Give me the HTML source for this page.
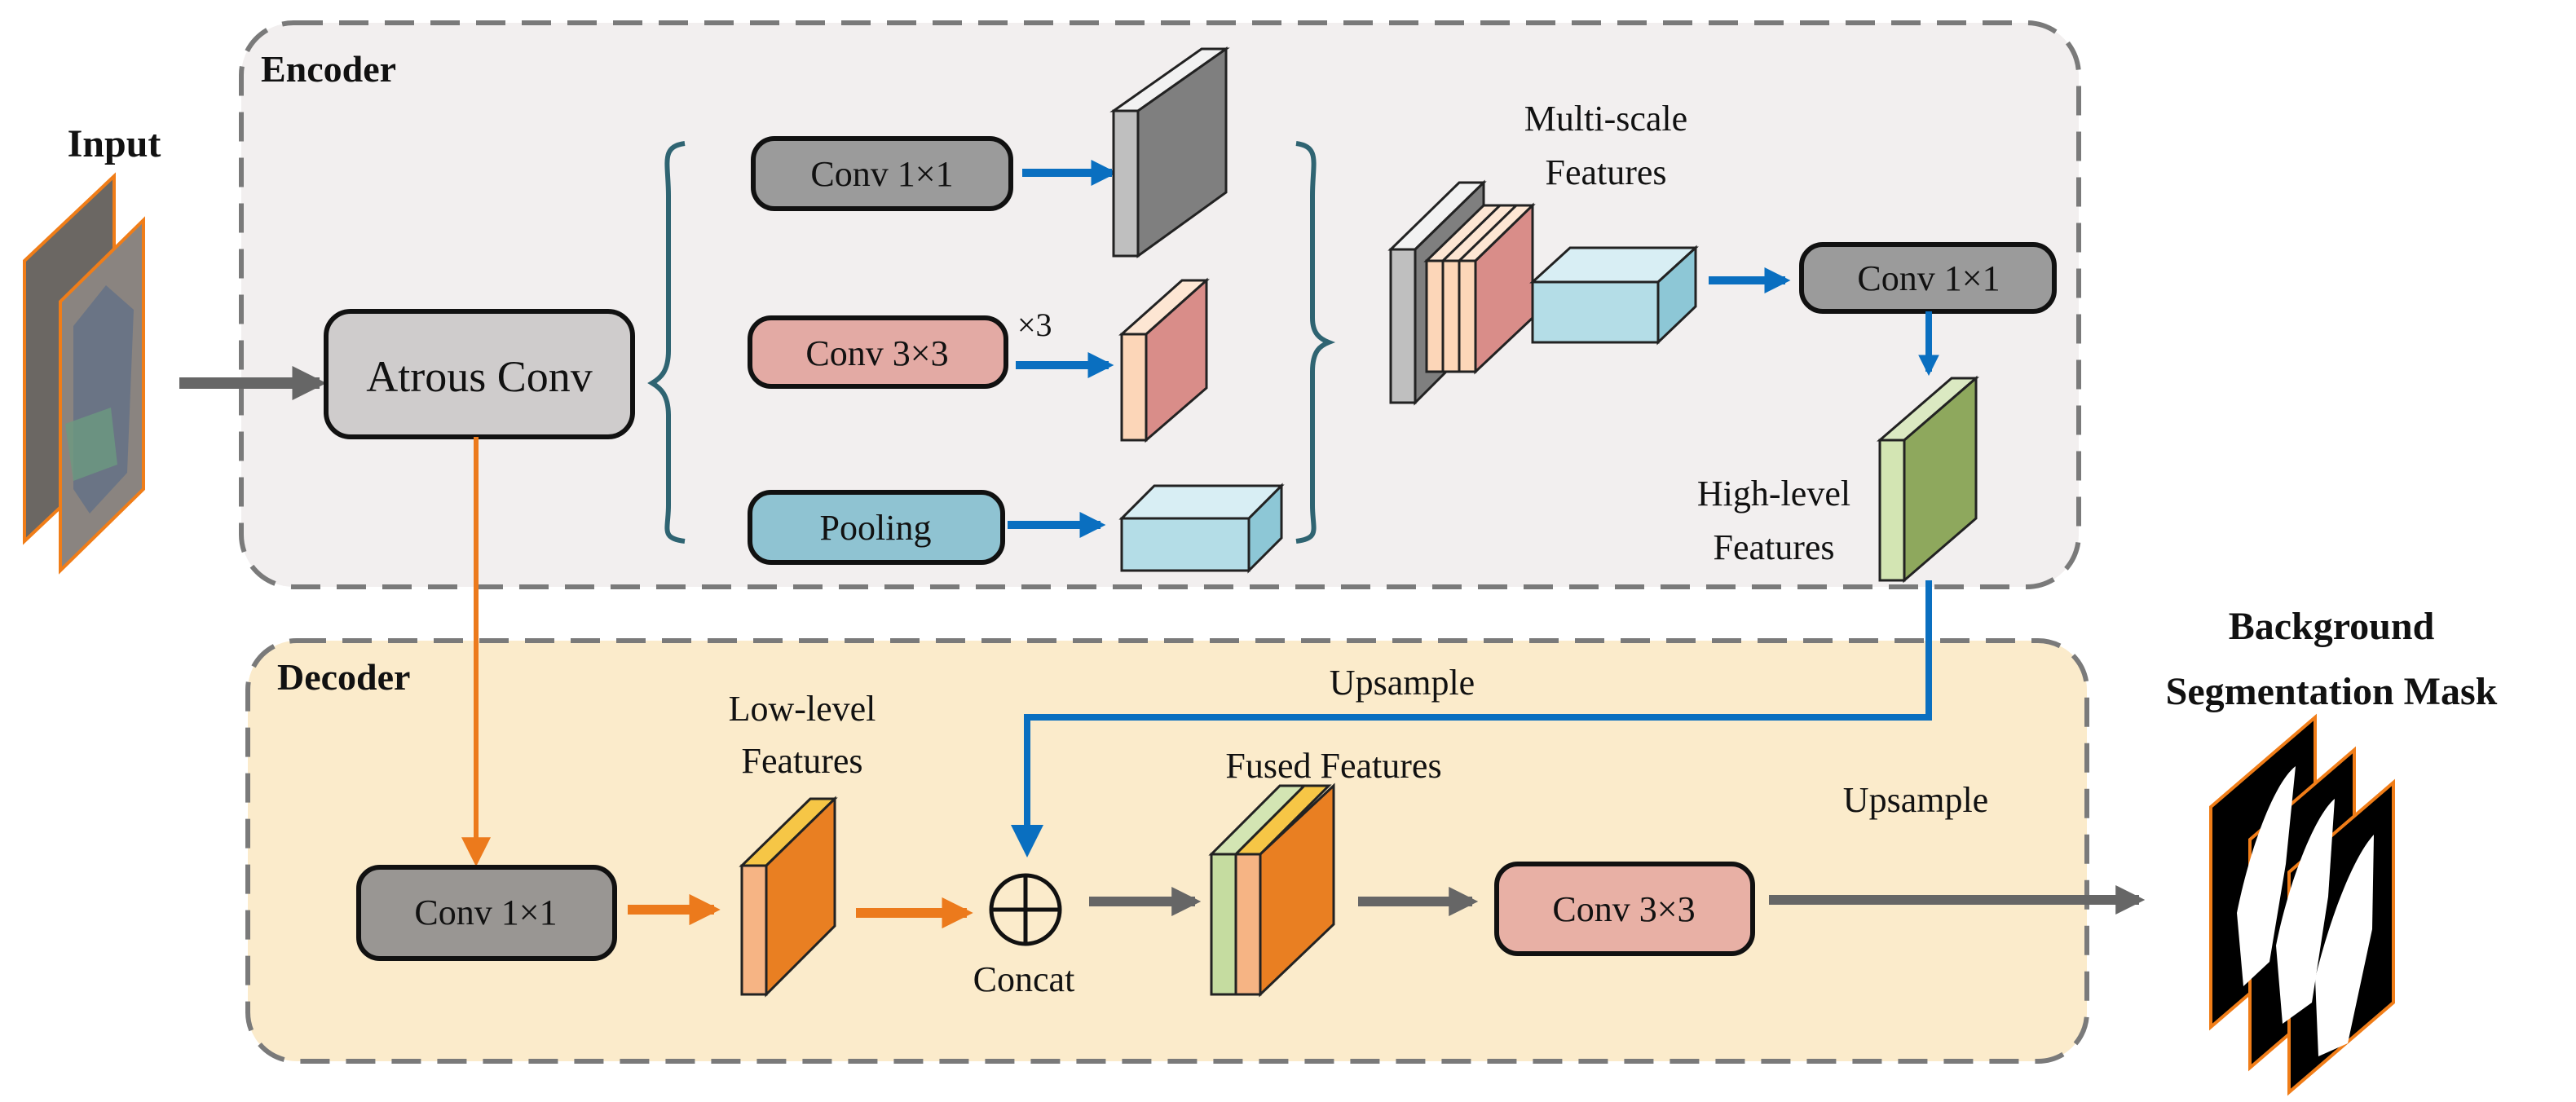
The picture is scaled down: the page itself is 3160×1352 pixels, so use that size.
<!DOCTYPE html>
<html><head><meta charset="utf-8"><style>
html,body{margin:0;padding:0;background:#fff}
svg{display:block;font-family:"Liberation Serif","DejaVu Serif",serif}
svg text{font-family:"Liberation Serif","DejaVu Serif",serif;fill:#111}
</style></head><body>
<svg width="3160" height="1352" viewBox="0 0 1580 676" xmlns="http://www.w3.org/2000/svg" font-family="Liberation Serif, DejaVu Serif, serif">
<defs>
<marker id="ab" viewBox="0 0 10 10" refX="8" refY="5" markerWidth="3.2" markerHeight="3.2" orient="auto"><path d="M0,0L10,5L0,10z" fill="#0a6fc0"/></marker>
<marker id="ag" viewBox="0 0 10 10" refX="8" refY="5" markerWidth="3" markerHeight="3" orient="auto"><path d="M0,0L10,5L0,10z" fill="#666"/></marker>
<marker id="ao" viewBox="0 0 10 10" refX="8" refY="5" markerWidth="3.2" markerHeight="3.2" orient="auto"><path d="M0,0L10,5L0,10z" fill="#ec7a1c"/></marker>
<marker id="aot" viewBox="0 0 10 10" refX="8" refY="5" markerWidth="6" markerHeight="6" orient="auto"><path d="M0,0L10,5L0,10z" fill="#ec7a1c"/></marker>
<marker id="abt" viewBox="0 0 10 10" refX="8" refY="5" markerWidth="5" markerHeight="5" orient="auto"><path d="M0,0L10,5L0,10z" fill="#0a6fc0"/></marker>
</defs>
<g font-family="Liberation Serif, DejaVu Serif, serif">
<rect x="148" y="14" width="1127" height="346" rx="32" fill="#f2efef" stroke="#7a7a7a" stroke-width="3" stroke-dasharray="18,10"/>
<rect x="152" y="393" width="1128" height="258" rx="30" fill="#fbebcb" stroke="#7a7a7a" stroke-width="3" stroke-dasharray="18,10"/>
<text x="160" y="50" font-size="23" font-weight="bold">Encoder</text>
<text x="170" y="423" font-size="23" font-weight="bold">Decoder</text>
<text x="70" y="96" font-size="24" font-weight="bold" text-anchor="middle">Input</text>
<polygon points="15,160 70,108 70,280 15,332" fill="#6b6763" stroke="#f07d18" stroke-width="2"/>
<polygon points="37,185 88,135 88,300 37,350" fill="#8a8480" stroke="#f07d18" stroke-width="2"/>
<polygon points="45,200 65,175 82,190 78,290 55,315 45,300" fill="#5c6d88" opacity=".7"/>
<polygon points="40,260 68,250 72,285 45,295" fill="#6c9a80" opacity=".8"/>
<line x1="110" y1="235" x2="196" y2="235" stroke="#666" stroke-width="7" marker-end="url(#ag)"/>
<rect x="200" y="191" width="188" height="77" rx="15" fill="#cfcccc" stroke="#111" stroke-width="3"/>
<text x="294" y="240" font-size="27" text-anchor="middle">Atrous Conv</text>
<line x1="292" y1="268" x2="292" y2="528" stroke="#ec7a1c" stroke-width="3" marker-end="url(#aot)"/>
<path d="M420,88 C405,90 410,100 410,120 L410,215 C410,228 405,232 400,235 C405,238 410,242 410,255 L410,310 C410,325 405,330 420,332" fill="none" stroke="#2f6472" stroke-width="3"/>
<path d="M795,88 C810,90 805,100 805,120 L805,195 C805,205 810,208 815,210 C810,212 805,215 805,228 L805,310 C805,325 810,330 795,332" fill="none" stroke="#2f6472" stroke-width="3"/>
<rect x="462" y="85" width="158" height="43" rx="13" fill="#9b9b9b" stroke="#111" stroke-width="3"/>
<text x="541" y="114" font-size="22" text-anchor="middle">Conv 1×1</text>
<rect x="460" y="195" width="157" height="42" rx="13" fill="#e3aaa4" stroke="#111" stroke-width="3"/>
<text x="538" y="224" font-size="22" text-anchor="middle">Conv 3×3</text>
<rect x="460" y="302" width="155" height="43" rx="13" fill="#8fc3d2" stroke="#111" stroke-width="3"/>
<text x="537" y="331" font-size="22" text-anchor="middle">Pooling</text>
<line x1="627" y1="106" x2="682" y2="106" stroke="#0a6fc0" stroke-width="5" marker-end="url(#ab)"/>
<line x1="623" y1="224" x2="680" y2="224" stroke="#0a6fc0" stroke-width="5" marker-end="url(#ab)"/>
<text x="624" y="206" font-size="20">×3</text>
<line x1="618" y1="322" x2="675" y2="322" stroke="#0a6fc0" stroke-width="5" marker-end="url(#ab)"/>
<g stroke="#222" stroke-width="1.5">
<polygon points="683,68 698,68 752,30 737,30" fill="#f2f2f2"/>
<polygon points="698,68 752,30 752,118 698,157" fill="#7f7f7f"/>
<rect x="683" y="68" width="15" height="89" fill="#bfbfbf"/>
<polygon points="688,205 703,205 740,172 725,172" fill="#fde6d3"/>
<polygon points="703,205 740,172 740,238 703,270" fill="#d98d89"/>
<rect x="688" y="205" width="15" height="65" fill="#fcd6b8"/>
<polygon points="688,318 766,318 786,298 708,298" fill="#d8eef4"/>
<polygon points="766,318 786,298 786,330 766,350" fill="#8dc7d6"/>
<rect x="688" y="318" width="78" height="32" fill="#b4dde7"/>
<polygon points="853,153 868,153 910,112 895,112" fill="#f2f2f2"/>
<polygon points="868,153 910,112 910,205 868,247" fill="#7f7f7f"/>
<rect x="853" y="153" width="15" height="94" fill="#bfbfbf"/>
<polygon points="875,160 905,160 940,126 910,126" fill="#fde6d3"/>
<polygon points="905,160 940,126 940,195 905,228" fill="#d98d89"/>
<rect x="875" y="160" width="10" height="68" fill="#fcd6b8"/>
<rect x="885" y="160" width="10" height="68" fill="#fcd6b8"/>
<rect x="895" y="160" width="10" height="68" fill="#fcd6b8"/>
<line x1="885" y1="160" x2="920" y2="126"/><line x1="895" y1="160" x2="930" y2="126"/>
<polygon points="940,173 1017,173 1040,152 963,152" fill="#d8eef4"/>
<polygon points="1017,173 1040,152 1040,188 1017,210" fill="#8dc7d6"/>
<rect x="940" y="173" width="77" height="37" fill="#b4dde7"/>
</g>
<text x="985" y="80" font-size="22" text-anchor="middle">Multi-scale</text>
<text x="985" y="113" font-size="22" text-anchor="middle">Features</text>
<line x1="1048" y1="172" x2="1095" y2="172" stroke="#0a6fc0" stroke-width="5" marker-end="url(#ab)"/>
<rect x="1105" y="150" width="155" height="41" rx="13" fill="#9b9b9b" stroke="#111" stroke-width="3"/>
<text x="1183" y="178" font-size="22" text-anchor="middle">Conv 1×1</text>
<line x1="1183" y1="191" x2="1183" y2="228" stroke="#0a6fc0" stroke-width="4" marker-end="url(#ab)"/>
<g stroke="#222" stroke-width="1.5">
<polygon points="1153,270 1168,270 1212,232 1197,232" fill="#dbe9c2"/>
<polygon points="1168,270 1212,232 1212,318 1168,356" fill="#8ea85d"/>
<rect x="1153" y="270" width="15" height="86" fill="#d3e5b3"/>
</g>
<text x="1088" y="310" font-size="22" text-anchor="middle">High-level</text>
<text x="1088" y="343" font-size="22" text-anchor="middle">Features</text>
<polyline points="1183,356 1183,440 630,440 630,522" fill="none" stroke="#0a6fc0" stroke-width="4" marker-end="url(#abt)"/>
<text x="860" y="426" font-size="22" text-anchor="middle">Upsample</text>
<rect x="220" y="532" width="157" height="56" rx="13" fill="#999693" stroke="#111" stroke-width="3"/>
<text x="298" y="567" font-size="22" text-anchor="middle">Conv 1×1</text>
<line x1="385" y1="558" x2="438" y2="558" stroke="#ec7a1c" stroke-width="6" marker-end="url(#ao)"/>
<g stroke="#222" stroke-width="1.5">
<polygon points="455,531 470,531 512,490 497,490" fill="#f6c646"/>
<polygon points="470,531 512,490 512,568 470,610" fill="#e97f22"/>
<rect x="455" y="531" width="15" height="79" fill="#f6b484"/>
</g>
<text x="492" y="442" font-size="22" text-anchor="middle">Low-level</text>
<text x="492" y="474" font-size="22" text-anchor="middle">Features</text>
<line x1="525" y1="560" x2="593" y2="560" stroke="#ec7a1c" stroke-width="6" marker-end="url(#ao)"/>
<circle cx="629" cy="558" r="21" fill="none" stroke="#111" stroke-width="2.5"/>
<line x1="608" y1="558" x2="650" y2="558" stroke="#111" stroke-width="2.5"/>
<line x1="629" y1="537" x2="629" y2="579" stroke="#111" stroke-width="2.5"/>
<text x="628" y="608" font-size="22" text-anchor="middle">Concat</text>
<line x1="668" y1="553" x2="733" y2="553" stroke="#666" stroke-width="6" marker-end="url(#ag)"/>
<g stroke="#222" stroke-width="1.5">
<polygon points="743,524 758,524 800,482 785,482" fill="#d3e5b3"/>
<polygon points="758,524 773,524 815,482 800,482" fill="#f6c646"/>
<polygon points="773,524 818,482 818,567 773,610" fill="#e97f22"/>
<rect x="743" y="524" width="15" height="86" fill="#c5dca0"/>
<rect x="758" y="524" width="15" height="86" fill="#f6b484"/>
</g>
<text x="818" y="477" font-size="22" text-anchor="middle">Fused Features</text>
<line x1="833" y1="553" x2="903" y2="553" stroke="#666" stroke-width="6" marker-end="url(#ag)"/>
<rect x="918" y="530" width="157" height="55" rx="13" fill="#e8b0a5" stroke="#111" stroke-width="3"/>
<text x="996" y="565" font-size="22" text-anchor="middle">Conv 3×3</text>
<line x1="1085" y1="552" x2="1312" y2="552" stroke="#666" stroke-width="6" marker-end="url(#ag)"/>
<text x="1175" y="498" font-size="22" text-anchor="middle">Upsample</text>
<text x="1430" y="392" font-size="24" font-weight="bold" text-anchor="middle">Background</text>
<text x="1430" y="432" font-size="24" font-weight="bold" text-anchor="middle">Segmentation Mask</text>
<polygon points="1356,495 1420,440 1420,575 1356,630" fill="#000" stroke="#f07d18" stroke-width="2"/>
<polygon points="1380,515 1444,460 1444,600 1380,655" fill="#000" stroke="#f07d18" stroke-width="2"/>
<polygon points="1404,535 1468,480 1468,615 1404,670" fill="#000" stroke="#f07d18" stroke-width="2"/>
<path d="M1372,560 C1380,520 1395,480 1408,470 L1402,530 1392,590 1376,605z" fill="#fff"/>
<path d="M1396,580 C1404,540 1420,500 1432,490 L1428,550 1418,615 1400,628z" fill="#fff"/>
<path d="M1420,600 C1430,560 1444,525 1456,512 L1455,570 1440,640 1422,648z" fill="#fff"/>
</g>
</svg>
</body></html>
